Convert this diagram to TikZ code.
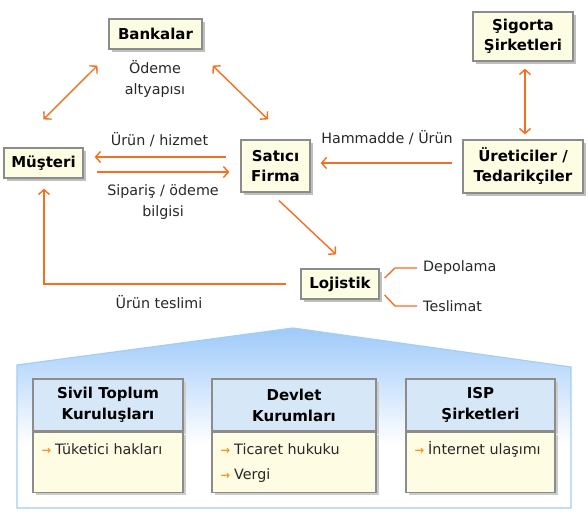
\documentclass[tikz,border=0pt]{standalone}
\usepackage{fontspec}
\setmainfont{DejaVu Sans}
\usepackage{xcolor}
\usetikzlibrary{shapes,arrows.meta,positioning,shadows,calc}

\definecolor{linkorange}{RGB}{243,112,33}
\definecolor{bulletorange}{RGB}{247,148,29}
\definecolor{boxcream}{RGB}{253,253,228}
\definecolor{boxgray}{RGB}{140,140,140}
\definecolor{notegray}{RGB}{40,40,40}
\definecolor{headblue}{RGB}{214,232,248}
\definecolor{bodyyellow}{RGB}{254,252,226}
\definecolor{roofblue}{RGB}{158,202,250}
\definecolor{roofedge}{RGB}{165,205,245}

\newcommand{\itemarrow}{{\color{bulletorange}\fontsize{11.5}{11}\selectfont\bfseries →}\hspace{4pt}}

\begin{document}
\begin{tikzpicture}[
    x=1pt, y=-1pt,
    actor/.style={rectangle, draw=boxgray, fill=boxcream, line width=1.2pt, inner sep=0pt, align=center,
        font=\fontsize{15}{20}\selectfont\bfseries,
        drop shadow={shadow xshift=2.5pt, shadow yshift=-2.5pt, fill=black!25, opacity=1}},
    note/.style={inner sep=0pt, align=center, text=notegray, font=\fontsize{14.3}{21}\selectfont},
    flow/.style={draw=linkorange, line width=1.4pt, -{Straight Barb[length=5pt,width=11pt]}},
    both/.style={flow, {Straight Barb[length=5pt,width=11pt]}-{Straight Barb[length=5pt,width=11pt]}},
    branch/.style={draw=linkorange, line width=1.4pt},
    cardhead/.style={rectangle, draw=boxgray, fill=headblue, line width=1.2pt, minimum height=52pt, inner sep=0pt,
        align=center, font=\fontsize{15}{21}\selectfont\bfseries,
        drop shadow={shadow xshift=2.5pt, shadow yshift=-2.5pt, fill=black!20, opacity=1}},
    cardbody/.style={rectangle, draw=boxgray, fill=bodyyellow, line width=1.2pt, minimum height=60pt, inner sep=0pt,
        drop shadow={shadow xshift=2.5pt, shadow yshift=-2.5pt, fill=black!20, opacity=1}},
    entry/.style={anchor=west, inner sep=0pt, text=notegray, font=\fontsize{14.3}{21}\selectfont}
]
\useasboundingbox (0,0) rectangle (588,520);

% Actors
\node[actor, minimum width=93pt, minimum height=30pt] (bank) at (155.5,34) {Bankalar};
\node[actor, minimum width=79pt, minimum height=30pt] (musteri) at (43.5,163) {Müşteri};
\node[actor, minimum width=69pt, minimum height=52pt] (satici) at (275.5,166) {Satıcı\\Firma};
\node[actor, minimum width=100pt, minimum height=49pt] (sigorta) at (523,36.5) {Şigorta\\Şirketleri};
\node[actor, minimum width=120pt, minimum height=53pt] (uretici) at (523,166.5) {Üreticiler /\\Tedarikçiler};
\node[actor, minimum width=78pt, minimum height=30pt] (lojistik) at (340,284) {Lojistik};

% Flow labels
\node[note] (odeme) at (155,79) {Ödeme\\altyapısı};
\node[note] (urunhizmet) at (159.5,140) {Ürün / hizmet};
\node[note] (siparis) at (163,202) {Sipariş / ödeme\\bilgisi};
\node[note] (hammadde) at (387,138) {Hammadde / Ürün};
\node[note] (teslimi) at (159,302) {Ürün teslimi};
\node[note, anchor=west] (depo) at (423,268) {Depolama};
\node[note, anchor=west] (teslimat) at (423,306) {Teslimat};

\draw[both] ($(bank.south west)+(-11,16)$) -- ($(musteri.north)+(0,-28)$);
\draw[both] ($(bank.south east)+(10,16)$) -- ($(satici.north)+(-7.5,-20)$);
\draw[flow] ($(satici.west)+(-14,-9)$) -- ($(musteri.east)+(11,-6)$);
\draw[flow] ($(musteri.east)+(13,9)$) -- ($(satici.west)+(-11,6)$);
\draw[flow] ($(uretici.west)+(-10,-3.5)$) -- ($(satici.east)+(10,-3)$);
\draw[both] ($(sigorta.south)+(2,7)$) -- ($(uretici.north)+(2,-5)$);
\draw[flow] ($(satici.south)+(3.5,8)$) -- ($(lojistik.north)+(-4,-14)$);
\draw[flow] ($(lojistik.west)+(-14,0)$) -| ($(musteri.south)+(0.5,10)$);
\draw[branch] ($(lojistik.east)+(5,-6)$) -- ($(depo.west)+(-28,0)$) -- ($(depo.west)+(-6,0)$);
\draw[branch] ($(lojistik.east)+(5,11)$) -- ($(teslimat.west)+(-28,0)$) -- ($(teslimat.west)+(-6,0)$);

% Environment panel
\fill[white] (17,508) -- (17,365) -- (293,328) -- (571,367) -- (571,508) -- cycle;
\begin{scope}
  \clip (17,508) -- (17,365) -- (293,328) -- (571,367) -- (571,508) -- cycle;
  \shade[top color=roofblue, bottom color=white] (17,328) rectangle (571,445);
\end{scope}
\draw[roofedge, line width=1.2pt] (17,508) -- (17,365) -- (293,328) -- (571,367) -- (571,508) -- cycle;

\node[cardhead, minimum width=150pt] (sivilhead) at (108,405) {Sivil Toplum\\Kuruluşları};
\node[cardbody, minimum width=150pt, below=0pt of sivilhead] (sivilbody) {};
\node[cardhead, minimum width=164pt] (devlethead) at (294,405) {Devlet\\Kurumları};
\node[cardbody, minimum width=164pt, below=0pt of devlethead] (devletbody) {};
\node[cardhead, minimum width=149pt] (isphead) at (480.5,405) {ISP\\Şirketleri};
\node[cardbody, minimum width=149pt, below=0pt of isphead] (ispbody) {};

\node[entry] (tuketici) at ($(sivilbody.north west)+(9,18)$) {\itemarrow Tüketici hakları};
\node[entry] (ticaret) at ($(devletbody.north west)+(9,18)$) {\itemarrow Ticaret hukuku};
\node[entry] (vergi) at ($(devletbody.north west)+(9,44)$) {\itemarrow Vergi};
\node[entry] (internet) at ($(ispbody.north west)+(9,18)$) {\itemarrow İnternet ulaşımı};

\end{tikzpicture}
\end{document}
